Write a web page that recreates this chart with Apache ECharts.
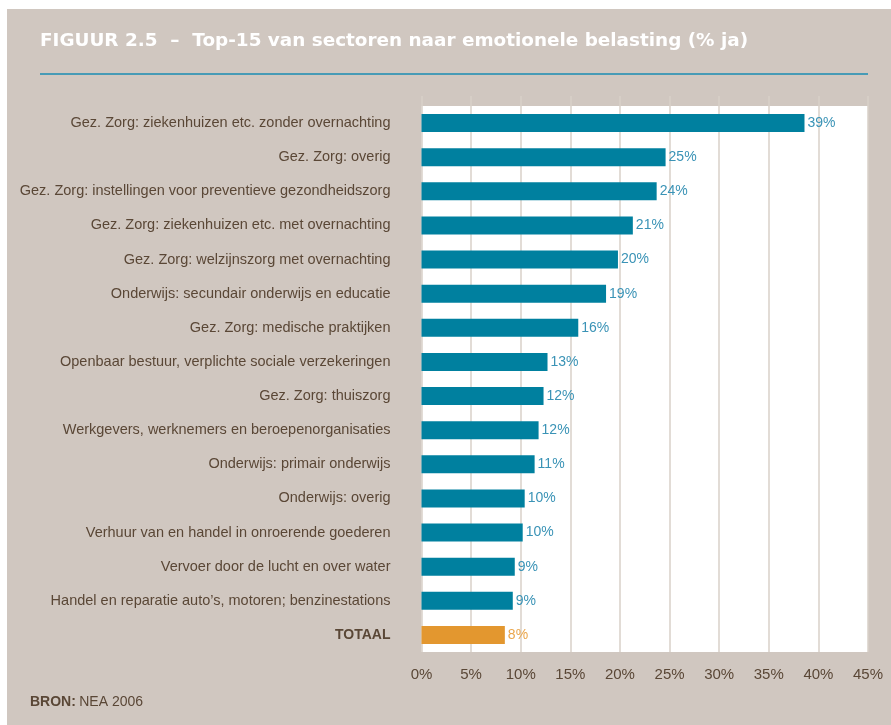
<!DOCTYPE html>
<html>
<head>
<meta charset="utf-8">
<script src="https://cdn.jsdelivr.net/npm/echarts@6/dist/echarts.min.js"></script>
<style>
  html, body { margin: 0; padding: 0; background: #ffffff; }
  #chart { width: 891px; height: 725px; }
</style>
</head>
<body>
<div id="chart"></div>
<script>
// Sectors, top to bottom, with the share answering "ja" (%)
const sectors = [
  'Gez. Zorg: ziekenhuizen etc. zonder overnachting',
  'Gez. Zorg: overig',
  'Gez. Zorg: instellingen voor preventieve gezondheidszorg',
  'Gez. Zorg: ziekenhuizen etc. met overnachting',
  'Gez. Zorg: welzijnszorg met overnachting',
  'Onderwijs: secundair onderwijs en educatie',
  'Gez. Zorg: medische praktijken',
  'Openbaar bestuur, verplichte sociale verzekeringen',
  'Gez. Zorg: thuiszorg',
  'Werkgevers, werknemers en beroepenorganisaties',
  'Onderwijs: primair onderwijs',
  'Onderwijs: overig',
  'Verhuur van en handel in onroerende goederen',
  'Vervoer door de lucht en over water',
  'Handel en reparatie auto\u2019s, motoren; benzinestations',
  'TOTAAL'
];
const percentJa = [38.6, 24.6, 23.7, 21.3, 19.8, 18.6, 15.8, 12.7, 12.3, 11.8, 11.4, 10.4, 10.2, 9.4, 9.2, 8.4];
const totalLabel = 'TOTAAL';
const axisMax = 45;
const axisStep = 5;

const BG = '#d0c7c0';
const TEAL = '#00809f';
const TEAL_TEXT = '#3a93b6';
const ORANGE = '#e3972f';
const ORANGE_TEXT = '#eaa64c';
const BROWN = '#5a4736';
const FONT = '"Liberation Sans", Arial, sans-serif';
const TITLE_FONT = '"DejaVu Sans", "Liberation Sans", sans-serif';

const PLOT_LEFT = 421.5;
const PLOT_RIGHT = 891 - 868;

const chart = echarts.init(document.getElementById('chart'), null, { renderer: 'canvas' });

chart.setOption({
  backgroundColor: BG,
  animation: false,
  textStyle: { fontFamily: FONT },
  graphic: [
    // white page margin on the top and left
    { type: 'rect', shape: { x: 0, y: 0, width: 891, height: 9 }, style: { fill: '#ffffff' }, silent: true },
    { type: 'rect', shape: { x: 0, y: 0, width: 7, height: 725 }, style: { fill: '#ffffff' }, silent: true },
    {
      type: 'text', left: 40, top: 32,
      style: {
        text: 'FIGUUR 2.5  \u2013  Top-15 van sectoren naar emotionele belasting (% ja)',
        fill: '#ffffff', font: 'bold 18.4px ' + TITLE_FONT
      }
    },
    { type: 'line', shape: { x1: 40, y1: 74, x2: 868, y2: 74 }, style: { stroke: '#1a8db3', lineWidth: 1.5 }, silent: true },
    {
      type: 'text', left: 30, top: 695,
      style: {
        text: '{b|BRON:} {n|NEA 2006}',
        rich: {
          b: { fontWeight: 'bold', fontSize: 14, fontFamily: FONT, fill: BROWN },
          n: { fontSize: 14, fontFamily: FONT, fill: BROWN }
        }
      }
    }
  ],
  grid: [
    // bars, on a white plot area
    { left: PLOT_LEFT, right: PLOT_RIGHT, top: 106, height: 546, show: true, backgroundColor: '#ffffff', borderWidth: 0 },
    // vertical gridlines, reaching a bit above the plot area
    { left: PLOT_LEFT, right: PLOT_RIGHT, top: 96, height: 556, show: false }
  ],
  xAxis: [
    {
      gridIndex: 0, type: 'value', min: 0, max: axisMax, interval: axisStep,
      axisLine: { show: false }, axisTick: { show: false },
      splitLine: { show: false },
      axisLabel: { color: BROWN, fontSize: 15, margin: 15, formatter: '{value}%', fontFamily: FONT }
    },
    {
      gridIndex: 1, type: 'value', min: 0, max: axisMax, interval: axisStep,
      axisLine: { show: false }, axisTick: { show: false }, axisLabel: { show: false },
      splitLine: { show: true, lineStyle: { color: '#d9d1c9', width: 1.5 } }
    }
  ],
  yAxis: [
    {
      gridIndex: 0, type: 'category', data: sectors, inverse: true,
      axisLine: { show: false }, axisTick: { show: false },
      axisLabel: {
        margin: 31, fontSize: 14.5, color: BROWN, fontFamily: FONT,
        formatter: (v) => v === totalLabel ? '{t|' + v + '}' : v,
        rich: { t: { fontWeight: 'bold', fontSize: 14, color: BROWN, fontFamily: FONT } }
      }
    },
    {
      gridIndex: 1, type: 'category', data: sectors, inverse: true, show: false
    }
  ],
  series: [
    {
      type: 'bar', xAxisIndex: 0, yAxisIndex: 0, barWidth: 18,
      data: percentJa.map((v, i) => ({
        value: v,
        itemStyle: { color: sectors[i] === totalLabel ? ORANGE : TEAL },
        label: { color: sectors[i] === totalLabel ? ORANGE_TEXT : TEAL_TEXT }
      })),
      label: {
        show: true, position: 'right', distance: 3, fontSize: 14, fontFamily: FONT,
        formatter: (p) => Math.round(p.value) + '%'
      }
    }
  ]
});
</script>
</body>
</html>
